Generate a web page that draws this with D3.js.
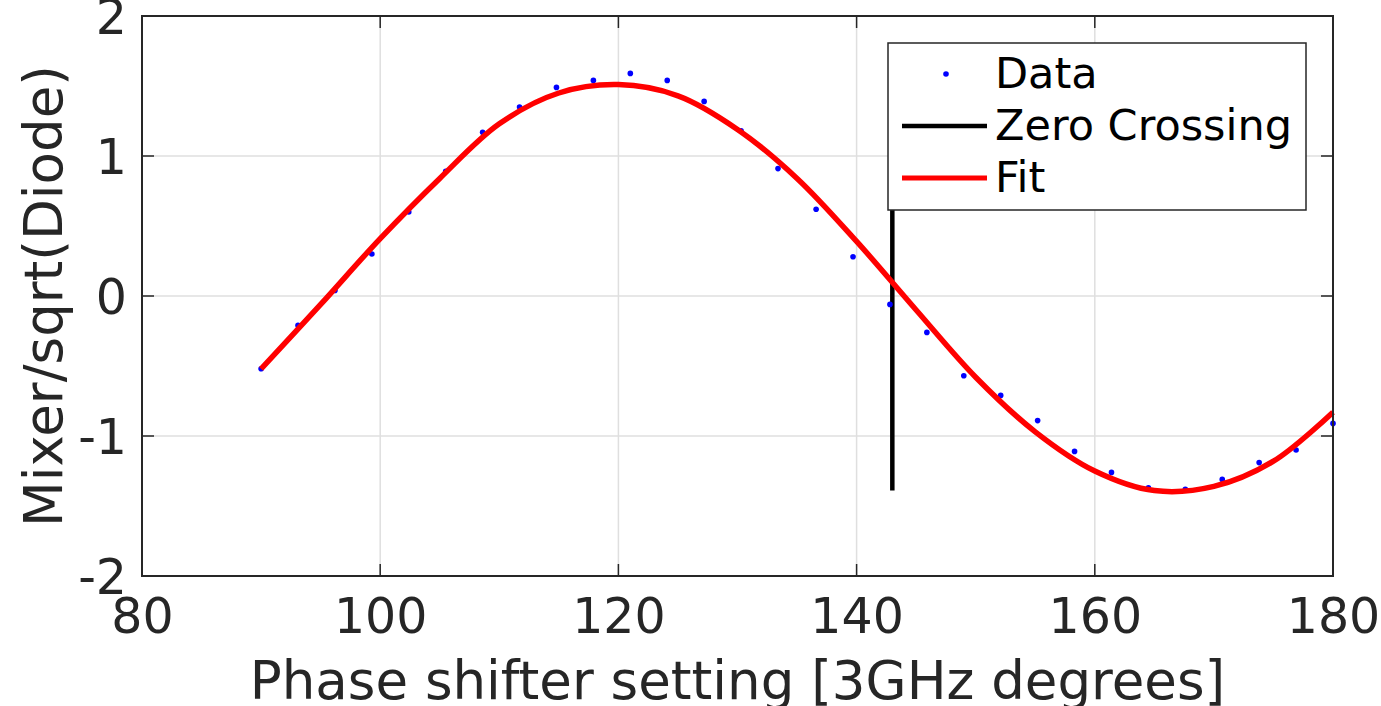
<!DOCTYPE html>
<html>
<head>
<meta charset="utf-8">
<script src="https://cdn.jsdelivr.net/npm/d3@7"></script>
<style>
    body { margin: 0; background: #fff; }
    svg { display: block; font-family: "DejaVu Sans", sans-serif; }
</style>
</head>
<body>
<script>
const width = 1381;
const height = 706;
const margin = { left: 142, right: 48, top: 16, bottom: 130 };

// measured data points
const dataX = [90, 93.1, 96.2, 99.3, 102.4, 105.5, 108.6, 111.7, 114.8, 117.9,
    121.0, 124.1, 127.2, 130.3, 133.4, 136.6, 139.7, 142.8, 145.9, 149.0,
    152.1, 155.2, 158.3, 161.4, 164.5, 167.6, 170.7, 173.8, 176.9, 180.0];
const dataY = [-0.52, -0.21, 0.04, 0.30, 0.60, 0.89, 1.17, 1.35, 1.49, 1.54,
    1.59, 1.54, 1.39, 1.18, 0.91, 0.62, 0.28, -0.06, -0.26, -0.57,
    -0.71, -0.89, -1.11, -1.26, -1.37, -1.38, -1.31, -1.19, -1.10, -0.91];

// fit curve
const fitX = [90, 95, 100, 105, 110, 115, 120, 125, 130, 135, 140, 145, 150, 155, 160, 165, 170, 175, 180];
const fitY = [-0.52, -0.06, 0.41, 0.84, 1.23, 1.45, 1.51, 1.43, 1.19, 0.84, 0.39, -0.10, -0.58, -0.97, -1.25, -1.39, -1.36, -1.18, -0.83];

// zero crossing marker
const zeroX = [143.0, 143.0];
const zeroY = [-1.39, 1.51];

const xTicks = [80, 100, 120, 140, 160, 180];
const yTicks = [-2, -1, 0, 1, 2];
const legendLabels = ["Data", "Zero Crossing", "Fit"];

var svg, x_scale, y_scale;

function generateScale() {
    x_scale = d3.scaleLinear().domain([80, 180]).range([margin.left, width - margin.right]);
    y_scale = d3.scaleLinear().domain([-2, 2]).range([height - margin.bottom, margin.top]);
}

function generateGrid() {
    var g = svg.append("g").attr("class", "grid");
    g.selectAll("line.gx")
        .data(xTicks)
        .enter()
        .append("line")
        .attr("x1", d => x_scale(d))
        .attr("x2", d => x_scale(d))
        .attr("y1", y_scale(-2))
        .attr("y2", y_scale(2))
        .attr("stroke", "#dfdfdf")
        .attr("stroke-width", 1.5);
    g.selectAll("line.gy")
        .data(yTicks)
        .enter()
        .append("line")
        .attr("y1", d => y_scale(d))
        .attr("y2", d => y_scale(d))
        .attr("x1", x_scale(80))
        .attr("x2", x_scale(180))
        .attr("stroke", "#dfdfdf")
        .attr("stroke-width", 1.5);
}

function generateAxis() {
    var tickLen = 12;
    // plain hyphen for negatives, like the original
    var fmt = d => String(d);
    var x_axis = d3.axisBottom(x_scale).tickValues(xTicks).tickSize(0).tickPadding(22).tickFormat(fmt);
    var y_axis = d3.axisLeft(y_scale).tickValues(yTicks).tickSize(0).tickPadding(15).tickFormat(fmt);

    var gx = svg.append("g")
        .attr("transform", "translate(0," + y_scale(-2) + ")")
        .attr("id", "x-axis")
        .call(x_axis);
    var gy = svg.append("g")
        .attr("transform", "translate(" + x_scale(80) + ",0)")
        .attr("id", "y-axis")
        .call(y_axis);
    [gx, gy].forEach(function (g) {
        g.select(".domain").remove();
        g.selectAll("text")
            .attr("fill", "#262626")
            .style("font-size", "49px")
            .style("font-family", "DejaVu Sans, sans-serif");
    });
    gy.selectAll("text").attr("dy", "0.36em");

    // inward ticks on all four sides
    var t = svg.append("g").attr("stroke", "#262626").attr("stroke-width", 1.5);
    xTicks.forEach(function (v) {
        t.append("line").attr("x1", x_scale(v)).attr("x2", x_scale(v))
            .attr("y1", y_scale(-2)).attr("y2", y_scale(-2) - tickLen);
        t.append("line").attr("x1", x_scale(v)).attr("x2", x_scale(v))
            .attr("y1", y_scale(2)).attr("y2", y_scale(2) + tickLen);
    });
    yTicks.forEach(function (v) {
        t.append("line").attr("y1", y_scale(v)).attr("y2", y_scale(v))
            .attr("x1", x_scale(80)).attr("x2", x_scale(80) + tickLen);
        t.append("line").attr("y1", y_scale(v)).attr("y2", y_scale(v))
            .attr("x1", x_scale(180)).attr("x2", x_scale(180) - tickLen);
    });

    svg.append("rect")
        .attr("x", x_scale(80))
        .attr("y", y_scale(2))
        .attr("width", x_scale(180) - x_scale(80))
        .attr("height", y_scale(-2) - y_scale(2))
        .attr("fill", "none")
        .attr("stroke", "#262626")
        .attr("stroke-width", 2);

    svg.append("text")
        .attr("x", (x_scale(80) + x_scale(180)) / 2)
        .attr("y", 699)
        .attr("text-anchor", "middle")
        .attr("fill", "#262626")
        .style("font-size", "53px")
        .text("Phase shifter setting [3GHz degrees]");

    svg.append("text")
        .attr("transform", "translate(62," + y_scale(0) + ") rotate(-90)")
        .attr("text-anchor", "middle")
        .attr("fill", "#262626")
        .style("font-size", "53px")
        .text("Mixer/sqrt(Diode)");
}

function generateLines() {
    var pts = fitX.map((d, i) => [d, fitY[i]]);
    var line = d3.line()
        .x(d => x_scale(d[0]))
        .y(d => y_scale(d[1]))
        .curve(d3.curveCatmullRom);

    svg.append("line")
        .attr("x1", x_scale(zeroX[0]))
        .attr("x2", x_scale(zeroX[1]))
        .attr("y1", y_scale(zeroY[0]))
        .attr("y2", y_scale(zeroY[1]))
        .attr("stroke", "#000")
        .attr("stroke-width", 4.5);

    svg.append("g")
        .selectAll("circle")
        .data(dataX.map((d, i) => [d, dataY[i]]))
        .enter()
        .append("circle")
        .attr("cx", d => x_scale(d[0]))
        .attr("cy", d => y_scale(d[1]))
        .attr("r", 2.8)
        .attr("fill", "#0000ff");

    svg.append("path")
        .datum(pts)
        .attr("d", line)
        .attr("fill", "none")
        .attr("stroke", "#ff0000")
        .attr("stroke-width", 5.5);
}

function generateLegend() {
    var lg = svg.append("g").attr("id", "legend");
    lg.append("rect")
        .attr("x", 888)
        .attr("y", 43)
        .attr("width", 418)
        .attr("height", 167)
        .attr("fill", "#fff")
        .attr("stroke", "#262626")
        .attr("stroke-width", 1.5);

    lg.append("circle").attr("cx", 946).attr("cy", 74).attr("r", 2.8).attr("fill", "#0000ff");
    lg.append("line").attr("x1", 902).attr("x2", 987).attr("y1", 126).attr("y2", 126)
        .attr("stroke", "#000").attr("stroke-width", 4.5);
    lg.append("line").attr("x1", 902).attr("x2", 987).attr("y1", 178).attr("y2", 178)
        .attr("stroke", "#ff0000").attr("stroke-width", 5);

    lg.selectAll("text")
        .data(legendLabels)
        .enter()
        .append("text")
        .attr("x", 995)
        .attr("y", (d, i) => 88 + i * 52)
        .attr("fill", "#000")
        .style("font-size", "43px")
        .text(d => d);
}

document.addEventListener("DOMContentLoaded", function () {
    svg = d3.select("body")
        .append("svg")
        .attr("width", width)
        .attr("height", height);

    generateScale();
    generateGrid();
    generateLines();
    generateAxis();
    generateLegend();
});
</script>
</body>
</html>
